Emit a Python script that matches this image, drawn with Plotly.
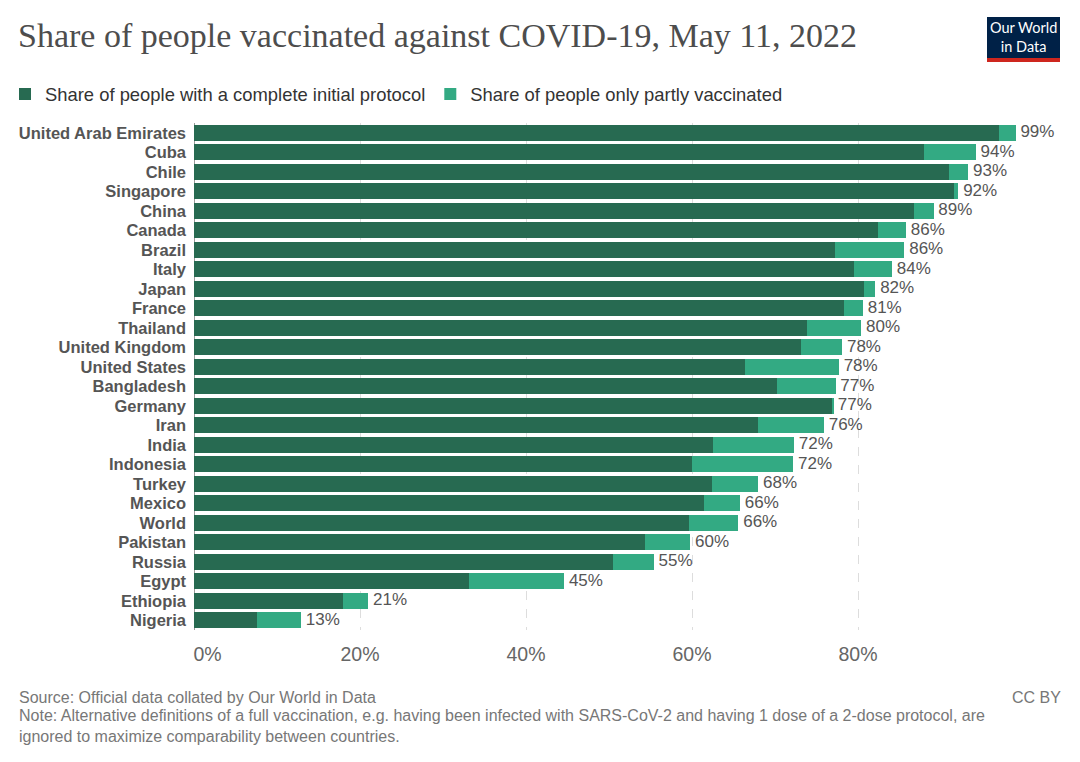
import plotly.graph_objects as go

# Data (percent of population)
countries = ["United Arab Emirates", "Cuba", "Chile", "Singapore", "China", "Canada",
             "Brazil", "Italy", "Japan", "France", "Thailand", "United Kingdom",
             "United States", "Bangladesh", "Germany", "Iran", "India", "Indonesia",
             "Turkey", "Mexico", "World", "Pakistan", "Russia", "Egypt", "Ethiopia",
             "Nigeria"]
complete = [97.0, 88.0, 91.0, 91.6, 86.7, 82.4, 77.2, 79.5, 80.7, 78.3, 73.9, 73.1,
            66.4, 70.3, 76.9, 68.0, 62.5, 60.0, 62.4, 61.4, 59.6, 54.3, 50.5, 33.1,
            18.0, 7.6]
partly = [2.0, 6.2, 2.3, 0.5, 2.4, 3.4, 8.4, 4.6, 1.4, 2.3, 6.5, 5.0,
          11.3, 7.0, 0.1, 7.9, 9.8, 12.2, 5.6, 4.4, 6.0, 5.5, 4.9, 11.5,
          3.0, 5.3]
total = [c + p for c, p in zip(complete, partly)]
total_labels = ["\u00a0" + f"{round(t)}%" for t in total]

tick_vals = [0, 20, 40, 60, 80]
tick_text = ["\u00a0" * 5 + "0%", "20%", "40%", "60%", "80%"]

W, H = 1080, 762
ML, MR, MT, MB = 194, 56, 123, 132
PW, PH = W - ML - MR, H - MT - MB


def px(x):
    return (x - ML) / PW


def py(y):
    return (H - MB - y) / PH


DARK = "#276a51"
TEAL = "#33aa83"
FONT = "Arial, Liberation Sans, sans-serif"

fig = go.Figure()
fig.add_trace(go.Bar(
    y=countries, x=complete, orientation="h", name="Share of people with a complete initial protocol",
    marker=dict(color=DARK, line=dict(width=0)), hoverinfo="x+y"))
fig.add_trace(go.Bar(
    y=countries, x=partly, orientation="h", name="Share of people only partly vaccinated",
    marker=dict(color=TEAL, line=dict(width=0)), hoverinfo="x+y"))
fig.add_trace(go.Scatter(
    y=countries, x=total, mode="text", text=total_labels, textposition="middle right",
    textfont=dict(size=17, color="#555555", family=FONT), showlegend=False, cliponaxis=False,
    hoverinfo="skip"))

fig.update_layout(
    width=W, height=H, barmode="stack", bargap=0.2,
    margin=dict(l=ML, r=MR, t=MT, b=MB, autoexpand=False),
    paper_bgcolor="white", plot_bgcolor="white",
    font=dict(family=FONT, color="#555555"),
    title=dict(text="Share of people vaccinated against COVID-19, May 11, 2022",
               x=18 / W, xref="container", xanchor="left",
               y=1 - 35 / H, yref="container", yanchor="middle", pad=dict(l=0, r=0, t=0, b=0),
               font=dict(family="Liberation Serif, DejaVu Serif, serif", size=34, color="#4d4d4d")),
    legend=dict(orientation="h", xref="container", yref="container",
                x=5 / W, y=1 - 94 / H, xanchor="left", yanchor="middle",
                font=dict(size=18.4, color="#333333", family=FONT),
                itemwidth=30, traceorder="normal"),
    xaxis=dict(range=[0, 100], tickvals=tick_vals, ticktext=tick_text,
               showgrid=True, gridcolor="#dddddd", griddash="dash", gridwidth=1,
               zeroline=True, zerolinecolor="#999999", zerolinewidth=1,
               ticks="", ticklabelstandoff=10, automargin=False,
               tickfont=dict(size=19.5, color="#666666", family=FONT), fixedrange=True),
    yaxis=dict(categoryorder="array", categoryarray=countries,
               range=[len(countries) - 0.5, -0.5],
               tickmode="array", tickvals=countries, ticktext=countries,
               showgrid=False, ticks="", ticklabelstandoff=7, automargin=False,
               tickfont=dict(size=16.5, color="#555555", family=FONT, weight="bold"),
               fixedrange=True),
)

# OWID logo
fig.add_shape(type="rect", xref="paper", yref="paper", x0=px(987), x1=px(1060), y0=py(62), y1=py(17),
              fillcolor="#002147", line=dict(width=0), layer="above")
fig.add_shape(type="rect", xref="paper", yref="paper", x0=px(987), x1=px(1060), y0=py(62), y1=py(58),
              fillcolor="#ce261e", line=dict(width=0), layer="above")
fig.add_annotation(text="Our World<br>in Data", xref="paper", yref="paper", x=px(1023.5), y=py(37),
                   showarrow=False, xanchor="center", yanchor="middle", align="center",
                   font=dict(family="Lato, Roboto, sans-serif", size=14.5, color="white"))

# footer
footer_font = dict(family=FONT, size=16, color="#777777")
fig.add_annotation(text="Source: Official data collated by Our World in Data", xref="paper", yref="paper",
                   x=px(17), y=py(697), showarrow=False, xanchor="left", yanchor="middle", font=footer_font)
fig.add_annotation(text="CC BY", xref="paper", yref="paper", x=px(1063), y=py(697), showarrow=False,
                   xanchor="right", yanchor="middle", font=footer_font)
fig.add_annotation(text="Note: Alternative definitions of a full vaccination, e.g. having been infected with "
                        "SARS-CoV-2 and having 1 dose of a 2-dose protocol, are<br>ignored to maximize "
                        "comparability between countries.",
                   xref="paper", yref="paper", x=px(17), y=py(726), showarrow=False, xanchor="left",
                   yanchor="middle", align="left", font=footer_font)

fig.write_html("out.html", config={"displayModeBar": False},
               post_script="document.body.style.margin='0';")
